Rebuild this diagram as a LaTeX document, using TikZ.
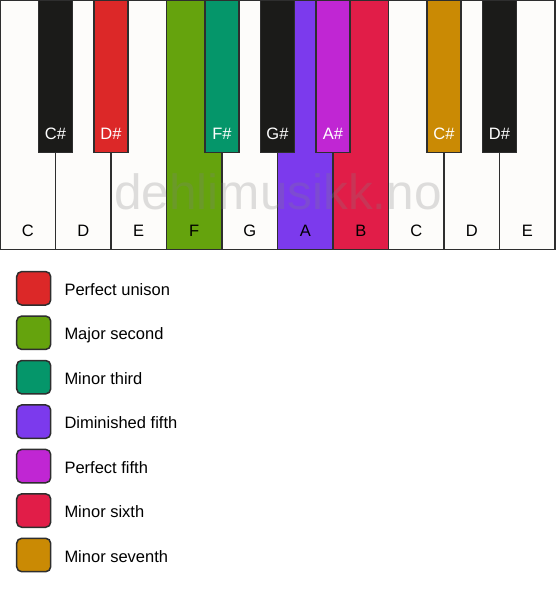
\documentclass[tikz,border=0pt]{standalone}
\usepackage{fontspec}
\setmainfont{Liberation Sans}
\definecolor{keyline}{HTML}{2E2E2E}
\definecolor{ivory}{HTML}{FDFCFA}
\definecolor{ebony}{HTML}{1B1B19}
\definecolor{cUnison}{HTML}{DC2828}
\definecolor{cSecond}{HTML}{65A30D}
\definecolor{cThird}{HTML}{05966A}
\definecolor{cDimFifth}{HTML}{7C3AED}
\definecolor{cFifth}{HTML}{C026D3}
\definecolor{cSixth}{HTML}{E11D48}
\definecolor{cSeventh}{HTML}{CA8A04}
\begin{document}
\begin{tikzpicture}[x=1pt,y=-1pt,
  whitekey/.style={draw=keyline, line width=1.5pt, fill=ivory, rectangle, anchor=north west,
    minimum width=55.5pt, minimum height=249.5pt, inner sep=0pt, outer sep=0pt},
  blackkey/.style={draw=keyline, line width=1.5pt, fill=ebony, rectangle, anchor=north,
    minimum width=34pt, minimum height=152.5pt, inner sep=0pt, outer sep=0pt},
  wlabel/.style={anchor=base, font=\fontsize{16.5}{19}\selectfont, text=black, inner sep=0pt},
  blabel/.style={anchor=base, font=\fontsize{16.5}{19}\selectfont, text=white, inner sep=0pt},
  swatch/.style={draw=keyline, line width=1.5pt, rectangle, rounded corners=5pt,
    minimum width=34pt, minimum height=33.4pt, inner sep=0pt},
  legtext/.style={anchor=base west, font=\fontsize{16.5}{19}\selectfont, text=black, inner sep=0pt}
]
\useasboundingbox (0,0) rectangle (556,594);
\fill[white] (0,0) rectangle (556,594);
% white keys
\node[whitekey] (wC1) at (0,0) {};
\node[whitekey] (wD1) at (55.5,0) {};
\node[whitekey] (wE1) at (111,0) {};
\node[whitekey, fill=cSecond] (wF1) at (166.5,0) {};
\node[whitekey] (wG1) at (222,0) {};
\node[whitekey, fill=cDimFifth] (wA1) at (277.5,0) {};
\node[whitekey, fill=cSixth] (wB1) at (333,0) {};
\node[whitekey] (wC2) at (388.5,0) {};
\node[whitekey] (wD2) at (444,0) {};
\node[whitekey] (wE2) at (499.5,0) {};
% white key labels
\node[wlabel] (lC1) at (27.75,236) {C};
\node[wlabel] (lD1) at (83.25,236) {D};
\node[wlabel] (lE1) at (138.75,236) {E};
\node[wlabel] (lF1) at (194.25,236) {F};
\node[wlabel] (lG1) at (249.75,236) {G};
\node[wlabel] (lA1) at (305.25,236) {A};
\node[wlabel] (lB1) at (360.75,236) {B};
\node[wlabel] (lC2) at (416.25,236) {C};
\node[wlabel] (lD2) at (471.75,236) {D};
\node[wlabel] (lE2) at (527.25,236) {E};
% watermark
\node[anchor=base, font=\fontsize{49.5}{50}\selectfont, text=black!50, opacity=0.25, inner sep=0pt]
  (wm) at (278,209) {dehlimusikk.no};
% black keys
\node[blackkey] (bCs1) at (55.5,0) {};
\node[blackkey, fill=cUnison] (bDs1) at (111,0) {};
\node[blackkey, fill=cThird] (bFs1) at (222,0) {};
\node[blackkey] (bGs1) at (277.5,0) {};
\node[blackkey, fill=cFifth] (bAs1) at (333,0) {};
\node[blackkey, fill=cSeventh] (bCs2) at (444,0) {};
\node[blackkey] (bDs2) at (499.5,0) {};
% black key labels
\node[blabel] (lCs1) at (55.5,139) {C\#};
\node[blabel] (lDs1) at (111,139) {D\#};
\node[blabel] (lFs1) at (222,139) {F\#};
\node[blabel] (lGs1) at (277.5,139) {G\#};
\node[blabel] (lAs1) at (333,139) {A\#};
\node[blabel] (lCs2) at (444,139) {C\#};
\node[blabel] (lDs2) at (499.5,139) {D\#};
% legend
\node[swatch, fill=cUnison]   (s1) at (33.7,288.3) {};
\node[swatch, fill=cSecond]   (s2) at (33.7,332.75) {};
\node[swatch, fill=cThird]    (s3) at (33.7,377.2) {};
\node[swatch, fill=cDimFifth] (s4) at (33.7,421.65) {};
\node[swatch, fill=cFifth]    (s5) at (33.7,466.1) {};
\node[swatch, fill=cSixth]    (s6) at (33.7,510.55) {};
\node[swatch, fill=cSeventh]  (s7) at (33.7,555) {};
\node[legtext] (t1) at (64.3,295.3) {Perfect unison};
\node[legtext] (t2) at (64.3,339.75) {Major second};
\node[legtext] (t3) at (64.3,384.2) {Minor third};
\node[legtext] (t4) at (64.3,428.65) {Diminished fifth};
\node[legtext] (t5) at (64.3,473.1) {Perfect fifth};
\node[legtext] (t6) at (64.3,517.55) {Minor sixth};
\node[legtext] (t7) at (64.3,562) {Minor seventh};
\end{tikzpicture}
\end{document}
